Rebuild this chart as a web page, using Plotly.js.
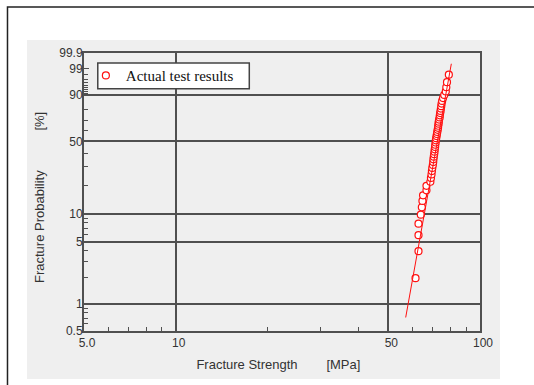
<!DOCTYPE html>
<html><head><meta charset="utf-8">
<script src="https://cdn.plot.ly/plotly-3.0.1.min.js"></script>
<style>html,body{margin:0;padding:0;background:#fff;}#chart{width:534px;height:385px;}</style>
</head><body><div id="chart"></div>
<script>
// Fracture strength [MPa] of each test piece (sorted)
const strength = [61.4, 62.8, 62.8, 62.8, 63.9, 64.4, 64.7, 65.0, 66.7, 66.7,
  68.7, 69.0, 69.3, 69.5, 69.7, 70.0, 70.2, 70.3, 70.5, 70.7,
  70.9, 71.0, 71.2, 71.3, 71.5, 71.6, 71.8, 72.0, 72.2, 72.4,
  72.6, 72.8, 72.9, 73.1, 73.2, 73.4, 73.7, 73.8, 74.0, 74.2,
  74.4, 74.6, 74.8, 75.1, 75.6, 76.3, 77.2, 77.5, 77.9, 79.0];
// Fracture probability [%] of each test piece
const probability = [1.96, 3.92, 5.88, 7.84, 9.80, 11.76, 13.73, 15.69, 17.65, 19.61,
  21.57, 23.53, 25.49, 27.45, 29.41, 31.37, 33.33, 35.29, 37.25, 39.22,
  41.18, 43.14, 45.10, 47.06, 49.02, 50.98, 52.94, 54.90, 56.86, 58.82,
  60.78, 62.75, 64.71, 66.67, 68.63, 70.59, 72.55, 74.51, 76.47, 78.43,
  80.39, 82.35, 84.31, 86.27, 88.24, 90.20, 92.16, 94.12, 96.08, 98.04];
// Weibull fit line end points
const fitStrength = [57.0, 80.5];
const fitProbability = [0.71, 99.46];

const yTickProb = [0.5, 1, 5, 10, 50, 90, 99, 99.9];
const yTickText = ['0.5', '1', '5', '10', '50', '90', '99', '99.9'];
const yGridProb = [1, 5, 10, 50, 90];
const yMinorProb = [0.6, 0.7, 0.8, 0.9, 2, 3, 4, 6, 7, 8, 9, 20, 30, 40, 60, 70, 80, 91, 92, 93, 94, 95, 96, 97, 98];
const xTickVals = [5, 10, 50, 100];
const xTickText = ['5.0', '10', '50', '100'];
const xMinorVals = [6, 7, 8, 9, 20, 30, 40, 60, 70, 80, 90];

// Weibull probability-paper scale
function weibull(p) { return Math.log(-Math.log(1 - p / 100)); }
const yRange = [weibull(0.5), weibull(99.9)];

const red = '#ff1010';
const axisCol = '#505050';
const tickFont = {family: 'Liberation Sans, Arial, sans-serif', size: 12, color: '#333'};
const titleFont = {family: 'Liberation Sans, Arial, sans-serif', size: 13, color: '#333'};
const NB = '\u00a0', ZW = '\u200b';

const traces = [
  {
    x: fitStrength, y: fitProbability.map(weibull), yaxis: 'y2',
    type: 'scatter', mode: 'lines', showlegend: false, hoverinfo: 'skip',
    line: {color: red, width: 1}
  },
  {
    x: strength, y: probability.map(weibull),
    type: 'scatter', mode: 'markers', name: 'Actual test results',
    marker: {symbol: 'circle', size: 7, color: '#ffffff', line: {color: red, width: 1.2}}
  }
];

const layout = {
  width: 534, height: 385,
  margin: {l: 84, r: 54, t: 53, b: 54, pad: 0},
  paper_bgcolor: '#ffffff',
  plot_bgcolor: 'rgba(0,0,0,0)',
  font: tickFont,
  showlegend: true,
  legend: {
    x: 0.0426, y: 0.9778, xanchor: 'left', yanchor: 'top',
    bgcolor: 'rgba(0,0,0,0)', borderwidth: 0,
    font: {family: 'Liberation Serif, Times New Roman, serif', size: 15, color: '#111'},
    indentation: -15
  },
  xaxis: {
    type: 'log', range: [Math.log10(5), 2],
    tickmode: 'array', tickvals: xTickVals, ticktext: xTickText,
    ticks: 'inside', ticklen: 4, tickcolor: axisCol, tickwidth: 1,
    ticklabelshift: 3,
    showgrid: true, gridcolor: axisCol, gridwidth: 2,
    showline: true, mirror: true, linecolor: axisCol, linewidth: 2,
    zeroline: false, tickfont: tickFont,
    minor: {tickmode: 'array', tickvals: xMinorVals, ticks: 'inside', ticklen: 4, tickcolor: axisCol, tickwidth: 1, showgrid: false},
    title: {text: 'Fracture Strength' + NB.repeat(8) + '[MPa]' + NB.repeat(2) + ZW,
      font: titleFont, standoff: 10}
  },
  yaxis: {
    range: yRange, tickmode: 'array', tickvals: yTickProb.map(weibull), ticktext: yTickText,
    ticks: 'inside', ticklen: 5, tickcolor: axisCol, tickwidth: 1,
    ticklabelstandoff: -3,
    showgrid: false, zeroline: false,
    showline: true, mirror: true, linecolor: axisCol, linewidth: 2,
    tickfont: tickFont,
    minor: {tickmode: 'array', tickvals: yMinorProb.map(weibull), ticks: 'inside', ticklen: 4, tickcolor: axisCol, tickwidth: 1, showgrid: false},
    title: {text: 'Fracture Probability' + NB.repeat(11) + '[%]' + NB.repeat(3) + ZW,
      font: titleFont, standoff: 12}
  },
  yaxis2: {
    overlaying: 'y', side: 'left', range: yRange,
    tickmode: 'array', tickvals: yGridProb.map(weibull),
    showticklabels: false, ticks: '', showline: false, zeroline: false,
    showgrid: true, gridcolor: axisCol, gridwidth: 2
  },
  shapes: [
    {type: 'rect', xref: 'paper', yref: 'paper', x0: -0.1932, x1: 1.3, y0: -0.3, y1: 1.1655,
      line: {color: '#222', width: 1.5}, fillcolor: 'rgba(0,0,0,0)', layer: 'below'},
    {type: 'rect', xref: 'paper', yref: 'paper', x0: -0.1439, x1: 1.0505, y0: -0.1727, y1: 1.0468,
      line: {width: 0}, fillcolor: '#efefef', layer: 'below'},
    // legend frame
    {type: 'rect', xref: 'paper', yref: 'paper', x0: 0.0348, x1: 0.4174, y0: 0.8716, y1: 0.9640,
      line: {color: '#444', width: 1.5}, fillcolor: '#ffffff', layer: 'above'}
  ]
};

Plotly.newPlot('chart', traces, layout, {displayModeBar: false, staticPlot: true});
</script>
</body></html>
